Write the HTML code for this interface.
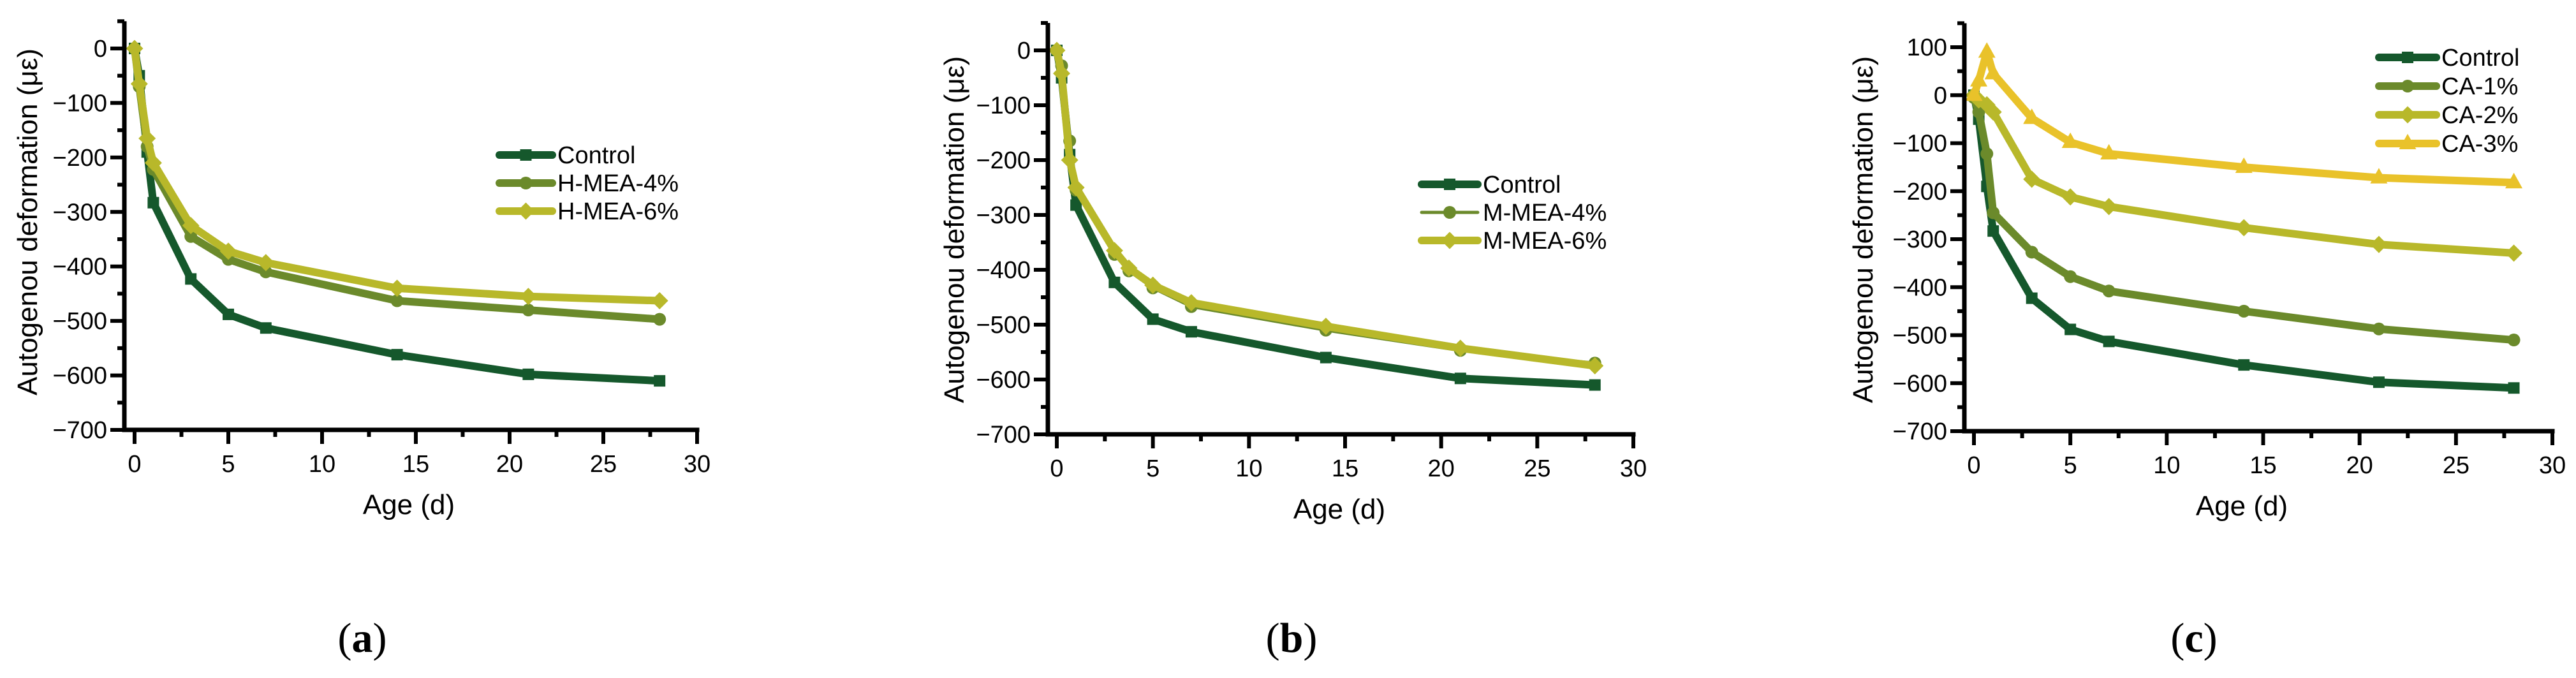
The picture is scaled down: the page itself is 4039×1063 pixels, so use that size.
<!DOCTYPE html>
<html><head><meta charset="utf-8">
<style>
html,body{margin:0;padding:0;background:#fff;}
svg{display:block;}
text{font-family:"Liberation Sans",Arial,sans-serif;fill:#000;}
.cap{font-family:"Liberation Serif",serif;}
</style></head>
<body>
<svg id="chart" width="4039" height="1063" viewBox="0 0 4039 1063" xmlns="http://www.w3.org/2000/svg"></svg>
<script>
const ages = [0, 0.25, 0.67, 1, 3, 5, 7, 14, 21, 28];
const ctrlVals = [0, -50, -190, -283, -423, -488, -513, -562, -598, -610];
const hmea4Vals = [0, -70, -180, -222, -345, -387, -410, -463, -480, -497];
const hmea6Vals = [0, -65, -165, -210, -325, -372, -393, -440, -455, -463];
const agesB = [0, 0.25, 0.67, 1, 3, 3.75, 5, 7, 14, 21, 28];
const agesBCtrl = [0, 0.25, 0.67, 1, 3, 5, 7, 14, 21, 28];
const ctrlBVals = [0, -50, -190, -282, -423, -490, -513, -560, -598, -610];
const mmea4Vals = [0, -28, -165, -255, -372, -402, -433, -467, -510, -547, -570];
const mmea6Vals = [0, -42, -200, -250, -365, -397, -428, -460, -503, -543, -575];
const agesC = [0, 0.25, 0.67, 1, 3, 5, 7, 14, 21, 28];
const ca1Vals = [-5, -35, -122, -245, -327, -378, -408, -450, -487, -510];
const ca2Vals = [0, -10, -20, -35, -175, -212, -232, -276, -311, -329];
const ca3Vals = [0, 30, 90, 45, -48, -98, -122, -150, -172, -182];
const xTicks = [0, 5, 10, 15, 20, 25, 30];
const yTicksAB = [0, -100, -200, -300, -400, -500, -600, -700];
const yTicksC = [100, 0, -100, -200, -300, -400, -500, -600, -700];

const NS = "http://www.w3.org/2000/svg";
const svg = document.getElementById('chart');
function mk(tag, attrs, parent){
  const e = document.createElementNS(NS, tag);
  for (const k in attrs) e.setAttribute(k, attrs[k]);
  (parent||svg).appendChild(e);
  return e;
}
const C1='#15582c', C2='#6b8a2b', C3='#b8b82a', C4='#e9c22a';

function marker(g, type, x, y, color, s){
  let m;
  if (type==='square') m = mk('rect',{x:x-s/2,y:y-s/2,width:s,height:s,fill:color},g);
  else if (type==='circle') m = mk('circle',{cx:x,cy:y,r:s/2+1,fill:color},g);
  else if (type==='diamond') m = mk('polygon',{points:`${x},${y-s*0.75} ${x+s*0.75},${y} ${x},${y+s*0.75} ${x-s*0.75},${y}`,fill:color},g);
  else m = mk('polygon',{points:`${x},${y-s*0.85} ${x+s*0.75},${y+s*0.5} ${x-s*0.75},${y+s*0.5}`,fill:color},g);
  return m;
}

function panel(p){
  const g = mk('g',{});
  
  
  const sx = v => p.x0 + (v/30)*(p.x30-p.x0);
  const sy = v => p.y0 + (v-p.yTop0)/(p.yBot-p.yTop0)*(p.yB-p.y0);
  p.series.forEach(s=>{
    const sg = mk('g',{},g);
    
    
    const pts = s.xs.map((a,i)=>sx(a)+','+sy(s.vals[i])).join(' ');
    const pl = mk('polyline',{points:pts,fill:'none',stroke:s.color,'stroke-width':s.w,'stroke-linejoin':'round'},sg);
    
    
    s.xs.forEach((a,i)=>{
      const m = marker(sg, s.marker, sx(a), sy(s.vals[i]), s.color, 18);
      
      
    });
  });
  const yAxisTop = sy(p.axisMax);
  const ya = mk('line',{x1:p.ax,y1:yAxisTop,x2:p.ax,y2:p.yB+3.5,stroke:'#000','stroke-width':7},g);
  
  
  const xa = mk('line',{x1:p.ax-3.5,y1:p.yB,x2:sx(30)+3.5,y2:p.yB,stroke:'#000','stroke-width':7},g);
  
  
  for (let v=p.axisMin; v<=p.axisMax; v+=50){
    const major = v%100===0;
    const t = mk('line',{x1:p.ax-(major?22:11),y1:sy(v),x2:p.ax,y2:sy(v),stroke:'#000','stroke-width':6},g);
    
    
  }
  p.yTicks.forEach(v=>{
    const t = mk('text',{x:p.ax-27,y:sy(v)+13,'text-anchor':'end','font-size':38},g);
    t.textContent = v<0 ? '\u2212'+Math.abs(v) : String(v);
    
    
  });
  for (let v=0; v<=30; v+=2.5){
    const major = v%5===0;
    const t = mk('line',{x1:sx(v),y1:p.yB,x2:sx(v),y2:p.yB+(major?22:11),stroke:'#000','stroke-width':6},g);
    
    
  }
  xTicks.forEach(v=>{
    const t = mk('text',{x:sx(v),y:p.yB+66,'text-anchor':'middle','font-size':38},g);
    t.textContent = String(v);
    
    
  });
  const xt = mk('text',{x:p.xtX,y:p.yB+132,'text-anchor':'middle','font-size':44},g);
  xt.textContent='Age (d)';
  
  
  const ytl = mk('text',{x:0,y:0,'text-anchor':'middle','font-size':44,transform:`translate(${p.ytX},${p.ytY}) rotate(-90)`},g);
  ytl.textContent='Autogenou deformation (\u03bc\u03b5)';
  
  
  const lg = mk('g',{},g);
  
  
  p.series.forEach((s,i)=>{
    const y = p.legY + i*p.legDy;
    const eg = mk('g',{},lg);
    
    
    mk('line',{x1:p.legX1,y1:y,x2:p.legX2,y2:y,stroke:s.color,'stroke-width':s.w,'stroke-linecap':'round'},eg);
    marker(eg, s.marker, (p.legX1+p.legX2)/2, y, s.color, 18);
    const t = mk('text',{x:p.legX2+8,y:y+13,'font-size':38},eg);
    t.textContent = s.label;
  });
  const cap = mk('text',{x:p.capX,y:1022,'text-anchor':'middle','font-size':66,'class':'cap'},g);
  cap.innerHTML = '(<tspan font-weight="bold">'+p.cap+'</tspan>)';
  
  
}

panel({name:'panel-a', x0:211, x30:1093, ax:195, y0:76, yTop0:0, yBot:-700, yB:674, axisMax:50, axisMin:-700,
  yTicks:yTicksAB, xtX:641, ytX:58, ytY:348, legX1:783, legX2:866, legY:243, legDy:44, capX:568, cap:'a',
  series:[
    {id:'control',label:'Control',xs:ages,vals:ctrlVals,color:C1,w:12,marker:'square'},
    {id:'h-mea-4',label:'H-MEA-4%',xs:ages,vals:hmea4Vals,color:C2,w:12,marker:'circle'},
    {id:'h-mea-6',label:'H-MEA-6%',xs:ages,vals:hmea6Vals,color:C3,w:12,marker:'diamond'}]});
panel({name:'panel-b', x0:1657, x30:2561, ax:1643, y0:79, yTop0:0, yBot:-700, yB:681, axisMax:50, axisMin:-700,
  yTicks:yTicksAB, xtX:2100, ytX:1511, ytY:360, legX1:2229, legX2:2317, legY:289, legDy:44, capX:2025, cap:'b',
  series:[
    {id:'control',label:'Control',xs:agesBCtrl,vals:ctrlBVals,color:C1,w:12,marker:'square'},
    {id:'m-mea-4',label:'M-MEA-4%',xs:agesB,vals:mmea4Vals,color:C2,w:5,marker:'circle'},
    {id:'m-mea-6',label:'M-MEA-6%',xs:agesB,vals:mmea6Vals,color:C3,w:12,marker:'diamond'}]});
panel({name:'panel-c', x0:3095, x30:4002, ax:3080, y0:74, yTop0:100, yBot:-700, yB:676, axisMax:150, axisMin:-700,
  yTicks:yTicksC, xtX:3515, ytX:2936, ytY:360, legX1:3730, legX2:3820, legY:90, legDy:45, capX:3440, cap:'c',
  series:[
    {id:'control',label:'Control',xs:agesC,vals:ctrlVals,color:C1,w:12,marker:'square'},
    {id:'ca-1',label:'CA-1%',xs:agesC,vals:ca1Vals,color:C2,w:12,marker:'circle'},
    {id:'ca-2',label:'CA-2%',xs:agesC,vals:ca2Vals,color:C3,w:12,marker:'diamond'},
    {id:'ca-3',label:'CA-3%',xs:agesC,vals:ca3Vals,color:C4,w:12,marker:'triangle'}]});
</script>
</body></html>
